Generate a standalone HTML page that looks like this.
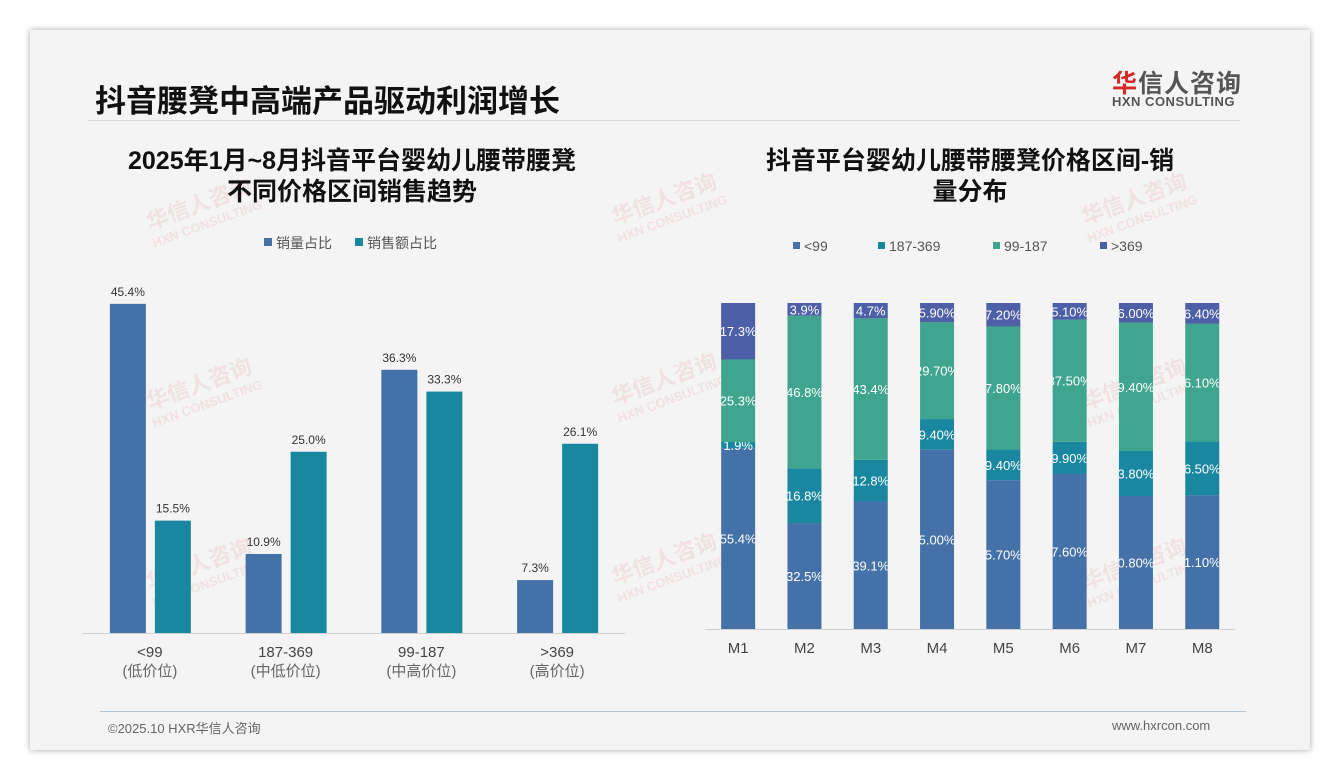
<!DOCTYPE html>
<html><head><meta charset="utf-8">
<style>
body{margin:0;width:1340px;height:780px;background:#fff;font-family:"Liberation Sans","Noto Sans CJK SC",sans-serif;overflow:hidden;position:relative}
.card{position:absolute;left:30px;top:30px;width:1280px;height:720px;background:#f4f4f4;box-shadow:0 0 6px rgba(0,0,0,0.35)}
.t{position:absolute;white-space:nowrap}
</style></head><body>
<div class="card"></div>
<div class="t" style="left:95px;top:76px;font-size:31px;font-weight:bold;color:#111">抖音腰凳中高端产品驱动利润增长</div>
<div class="t" style="left:1112px;top:64px;font-size:25px;font-weight:bold;color:#555;letter-spacing:1px"><span style="color:#d42a2a">华</span>信人咨询</div>
<div class="t" style="left:1112px;top:94px;font-size:13px;font-weight:bold;color:#555;letter-spacing:0.5px">HXN CONSULTING</div>
<div class="t" style="left:88px;top:120px;width:1152px;height:1px;background:#ddd"></div>
<div class="t" style="left:100px;top:711px;width:1146px;height:1px;background:#b8c4d0"></div>
<div class="t" style="left:108px;top:718px;font-size:13px;color:#666">©2025.10 HXR华信人咨询</div>
<div class="t" style="left:1112px;top:718px;font-size:13px;color:#666">www.hxrcon.com</div>

<svg width="1340" height="780" style="position:absolute;left:0;top:0" font-family="Liberation Sans, Noto Sans CJK SC, sans-serif">
<g id="wm" fill="#e8b8b8" opacity="0.3" font-weight="bold"></g>
<g id="left"></g>
<g id="right"></g>
</svg>
<script>
const NS='http://www.w3.org/2000/svg';
function mk(p,tag,a,txt){const e=document.createElementNS(NS,tag);for(const k in a)e.setAttribute(k,a[k]);if(txt!==undefined)e.textContent=txt;p.appendChild(e);return e;}
const wm=document.getElementById('wm');
[[150,230],[615,225],[1085,225],[150,410],[615,405],[1085,410],[150,590],[615,585],[1085,590]].forEach(p=>{
 const t=mk(wm,'text',{x:p[0],y:p[1],transform:`rotate(-20 ${p[0]} ${p[1]})`,'font-size':22},'华信人咨询');
 
 const s=mk(wm,'text',{x:p[0]-2,y:p[1]+18,transform:`rotate(-20 ${p[0]} ${p[1]})`,'font-size':13},'HXN CONSULTING');
 
});
const lCats=['<99','187-369','99-187','>369'];
const lSubs=['(低价位)','(中低价位)','(中高价位)','(高价位)'];
const lVol=[45.4,10.9,36.3,7.3];
const lAmt=[15.5,25.0,33.3,26.1];
const L=document.getElementById('left');
const lBase=633, lScale=7.25, lX0=82, lStep=135.75;
const ly=v=>lBase-v*lScale, lx=i=>lX0+lStep*(i+0.5);
let e;
e=mk(L,'text',{x:352,y:169,'text-anchor':'middle','font-size':25,'font-weight':'bold',fill:'#111'},'2025年1月~8月抖音平台婴幼儿腰带腰凳');
e=mk(L,'text',{x:352,y:200,'text-anchor':'middle','font-size':25,'font-weight':'bold',fill:'#111'},'不同价格区间销售趋势');
e=mk(L,'rect',{x:264,y:238,width:8,height:8,fill:'#4472a8'});
e=mk(L,'text',{x:276,y:248,'font-size':14,fill:'#555'},'销量占比');
e=mk(L,'rect',{x:355,y:238,width:8,height:8,fill:'#1a87a0'});
e=mk(L,'text',{x:367,y:248,'font-size':14,fill:'#555'},'销售额占比');
e=mk(L,'line',{x1:82,x2:625,y1:lBase+0.5,y2:lBase+0.5,stroke:'#d0d0d0'});
lCats.forEach((c,i)=>{
 const cx=lx(i);
 [[lVol[i],cx-40,'#4472a8','bar-volume'],[lAmt[i],cx+5,'#1a87a0','bar-amount']].forEach(b=>{
  e=mk(L,'rect',{x:b[1],y:ly(b[0]),width:36,height:b[0]*lScale,fill:b[2]});
  
  e=mk(L,'text',{x:b[1]+18,y:ly(b[0])-8,'text-anchor':'middle','font-size':12,fill:'#333'},b[0].toFixed(1)+'%');
  
 });
 e=mk(L,'text',{x:cx,y:657,'text-anchor':'middle','font-size':15,fill:'#444'},c);
 
 e=mk(L,'text',{x:cx,y:676,'text-anchor':'middle','font-size':15,fill:'#666'},lSubs[i]);
 
});
const rCats=['M1','M2','M3','M4','M5','M6','M7','M8'];
const sNames=['<99','187-369','99-187','>369'];
const sLow=[55.4,32.5,39.1,55.00,45.70,47.60,40.80,41.10];
const sMidLow=[1.9,16.8,12.8,9.40,9.40,9.90,13.80,16.50];
const sMidHigh=[25.3,46.8,43.4,29.70,37.80,37.50,39.40,36.10];
const sHigh=[17.3,3.9,4.7,5.90,7.20,5.10,6.00,6.40];
const sLabels=[['55.4%','32.5%','39.1%','5.00%','5.70%','7.60%','0.80%','1.10%'],['1.9%','16.8%','12.8%','9.40%','9.40%','9.90%','3.80%','6.50%'],['25.3%','46.8%','43.4%','29.70%','7.80%','37.50%','9.40%','6.10%'],['17.3%','3.9%','4.7%','5.90%','7.20%','5.10%','6.00%','6.40%']];
const sColors=['#4472a8','#1a87a0','#3fa58e','#4d5fa6'];
const R=document.getElementById('right');
const rBase=629, rH=326, rX0=705, rStep=66.3, bw=34;
const rx=i=>rX0+rStep*(i+0.5);
e=mk(R,'text',{x:970,y:169,'text-anchor':'middle','font-size':25,'font-weight':'bold',fill:'#111'},'抖音平台婴幼儿腰带腰凳价格区间-销');
e=mk(R,'text',{x:970,y:200,'text-anchor':'middle','font-size':25,'font-weight':'bold',fill:'#111'},'量分布');
const legX=[793,878,993,1100];
sNames.forEach((n,k)=>{
 e=mk(R,'rect',{x:legX[k],y:242,width:7,height:7,fill:sColors[k]});
 e=mk(R,'text',{x:legX[k]+11,y:251,'font-size':14,fill:'#555'},n);
});
e=mk(R,'line',{x1:705,x2:1235,y1:rBase+0.5,y2:rBase+0.5,stroke:'#d0d0d0'});
const defs=mk(R,'defs',{});
const series=[sLow,sMidLow,sMidHigh,sHigh];
rCats.forEach((c,i)=>{
 const x=rx(i)-bw/2;
 const tot=series.reduce((a,s)=>a+s[i],0);
 const cp=mk(defs,'clipPath',{id:'cp'+i});mk(cp,'rect',{x:x,y:0,width:bw,height:780});
 let acc=0;
 series.forEach((s,k)=>{
  const h=s[i]/tot*rH, y=rBase-acc-h;
  e=mk(R,'rect',{x:x,y:y,width:bw,height:h,fill:sColors[k]});
  
  e=mk(R,'text',{x:rx(i),y:y+h/2+5,'text-anchor':'middle','font-size':13,fill:'#fff','clip-path':`url(#cp${i})`},sLabels[k][i]);
  
  acc+=h;
 });
 e=mk(R,'text',{x:rx(i),y:653,'text-anchor':'middle','font-size':15,fill:'#444'},c);
 
});
</script>
</body></html>
